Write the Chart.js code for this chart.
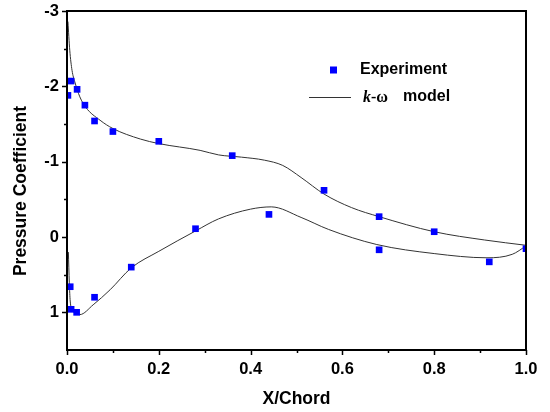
<!DOCTYPE html>
<html>
<head>
<meta charset="utf-8">
<script src="https://cdn.jsdelivr.net/npm/chart.js@4"></script>
<style>
  html, body { margin: 0; padding: 0; background: #fff; }
  #wrap { width: 550px; height: 412px; }
</style>
</head>
<body>
<div id="wrap"><canvas id="cpChart" width="550" height="412"></canvas></div>
<script>
// Measured pressure coefficient (upper + lower surface)
const expX  = [0.002, 0.009, 0.022, 0.039, 0.060, 0.100, 0.200, 0.360, 0.560, 0.680, 0.800, 1.000,
               0.007, 0.009, 0.021, 0.060, 0.140, 0.280, 0.440, 0.680, 0.920];
const expCp = [-1.88, -2.07, -1.96, -1.75, -1.54, -1.40, -1.27, -1.08, -0.62, -0.27, -0.07, 0.155,
               0.66, 0.96, 1.00, 0.80, 0.40, -0.11, -0.30, 0.17, 0.33];

// k-omega model, upper surface
const upperX  = [0.002, 0.006, 0.011, 0.017, 0.028, 0.041, 0.072, 0.100, 0.160, 0.200, 0.290, 0.330,
                 0.380, 0.430, 0.470, 0.510, 0.560, 0.620, 0.680, 0.800, 0.910, 1.000];
const upperCp = [-2.86, -2.48, -2.21, -2.06, -1.86, -1.72, -1.55, -1.44, -1.30, -1.24, -1.15, -1.09,
                 -1.06, -1.02, -0.95, -0.79, -0.57, -0.39, -0.27, -0.07, 0.04, 0.11];

// k-omega model, lower surface
const lowerX  = [0.003, 0.005, 0.007, 0.012, 0.020, 0.028, 0.057, 0.094, 0.140, 0.200, 0.280, 0.330,
                 0.400, 0.445, 0.510, 0.570, 0.675, 0.800, 0.915, 0.970, 1.000];
const lowerCp = [0.20, 0.60, 0.85, 0.97, 1.02, 1.03, 0.90, 0.70, 0.41, 0.19, -0.08, -0.24,
                 -0.37, -0.40, -0.26, -0.10, 0.10, 0.22, 0.276, 0.23, 0.12];

const xTicks = [0, 0.2, 0.4, 0.6, 0.8, 1.0];
const xMinor = [0.1, 0.3, 0.5, 0.7, 0.9];
const yTicks = [-3, -2, -1, 0, 1];
const yMinor = [-2.5, -1.5, -0.5, 0.5];

const toPoints = (xs, ys) => xs.map((x, i) => ({ x: x, y: ys[i] }));

const SANS = '"Liberation Sans", Arial, sans-serif';

// Frame, outward ticks, axis titles and legend
const framePlugin = {
    id: 'frame',
    afterDraw(chart) {
        const ctx = chart.ctx;
        const area = chart.chartArea;
        const xs = chart.scales.x;
        const ys = chart.scales.y;
        ctx.save();
        ctx.strokeStyle = '#000';
        ctx.lineWidth = 2;
        ctx.strokeRect(area.left, area.top, area.right - area.left, area.bottom - area.top);

        // ticks
        ctx.lineWidth = 1.5;
        ctx.beginPath();
        xTicks.forEach(v => {
            const p = Math.round(xs.getPixelForValue(v)) + 0.5;
            ctx.moveTo(p, area.bottom); ctx.lineTo(p, area.bottom + 5);
        });
        xMinor.forEach(v => {
            const p = Math.round(xs.getPixelForValue(v)) + 0.5;
            ctx.moveTo(p, area.bottom); ctx.lineTo(p, area.bottom + 3);
        });
        yTicks.forEach(v => {
            const p = Math.round(ys.getPixelForValue(v)) + 0.5;
            ctx.moveTo(area.left, p); ctx.lineTo(area.left - 5, p);
        });
        yMinor.forEach(v => {
            const p = Math.round(ys.getPixelForValue(v)) + 0.5;
            ctx.moveTo(area.left, p); ctx.lineTo(area.left - 3, p);
        });
        ctx.stroke();

        // axis titles
        ctx.fillStyle = '#000';
        ctx.font = 'bold 17.5px ' + SANS;
        ctx.textAlign = 'center';
        ctx.textBaseline = 'middle';
        ctx.fillText('X/Chord', (area.left + area.right) / 2, 399);
        ctx.save();
        ctx.translate(21, 191);
        ctx.rotate(-Math.PI / 2);
        ctx.fillText('Pressure Coefficient', 0, 0);
        ctx.restore();

        // legend
        ctx.fillStyle = '#0000ff';
        ctx.fillRect(330, 66.5, 7, 7);
        ctx.strokeStyle = '#333';
        ctx.lineWidth = 1;
        ctx.beginPath();
        ctx.moveTo(309, 97.5); ctx.lineTo(351, 97.5);
        ctx.stroke();

        ctx.fillStyle = '#000';
        ctx.textAlign = 'left';
        ctx.font = 'bold 16px ' + SANS;
        ctx.fillText('Experiment', 360, 70);
        ctx.font = 'italic bold 16px "Liberation Serif", serif';
        ctx.fillText('k', 363, 98);
        const kw = ctx.measureText('k').width;
        ctx.font = 'bold 16px "Liberation Serif", serif';
        ctx.fillText('-ω', 363 + kw, 98);
        ctx.font = 'bold 16px ' + SANS;
        ctx.fillText('model', 403, 97);
        ctx.restore();
    }
};

const ctx = document.getElementById('cpChart').getContext('2d');
new Chart(ctx, {
    type: 'scatter',
    data: {
        datasets: [
            {
                label: 'Experiment',
                data: toPoints(expX, expCp),
                pointStyle: 'rect',
                pointRadius: 4.7,
                backgroundColor: '#0000ff',
                borderColor: '#0000ff',
                borderWidth: 0,
                showLine: false
            },
            {
                label: 'k-ω model upper',
                data: toPoints(upperX, upperCp),
                showLine: true,
                pointRadius: 0,
                borderColor: '#333',
                borderWidth: 1,
                cubicInterpolationMode: 'monotone'
            },
            {
                label: 'k-ω model lower',
                data: toPoints(lowerX, lowerCp),
                showLine: true,
                pointRadius: 0,
                borderColor: '#333',
                borderWidth: 1,
                cubicInterpolationMode: 'monotone'
            }
        ]
    },
    options: {
        responsive: false,
        animation: false,
        layout: { padding: { top: 11, right: 24, left: 0, bottom: 0 } },
        plugins: {
            legend: { display: false },
            tooltip: { enabled: false }
        },
        scales: {
            x: {
                type: 'linear',
                min: 0,
                max: 1,
                afterFit: s => { s.height = 62; s.paddingLeft = 0; s.paddingRight = 0; },
                afterBuildTicks: s => { s.ticks = xTicks.map(v => ({ value: v })); },
                grid: { display: false, drawTicks: false },
                border: { display: false },
                ticks: {
                    padding: 10,
                    color: '#000',
                    font: { family: SANS, size: 16.5, weight: 'bold' },
                    callback: v => v.toFixed(1)
                }
            },
            y: {
                type: 'linear',
                min: -3,
                max: 1.5,
                reverse: true,
                afterFit: s => { s.width = 67; s.paddingTop = 0; s.paddingBottom = 0; },
                afterBuildTicks: s => { s.ticks = yTicks.map(v => ({ value: v })); },
                grid: { display: false, drawTicks: false },
                border: { display: false },
                ticks: {
                    padding: 8,
                    color: '#000',
                    font: { family: SANS, size: 16.5, weight: 'bold' },
                    callback: v => String(v)
                }
            }
        }
    },
    plugins: [framePlugin]
});
</script>
</body>
</html>
